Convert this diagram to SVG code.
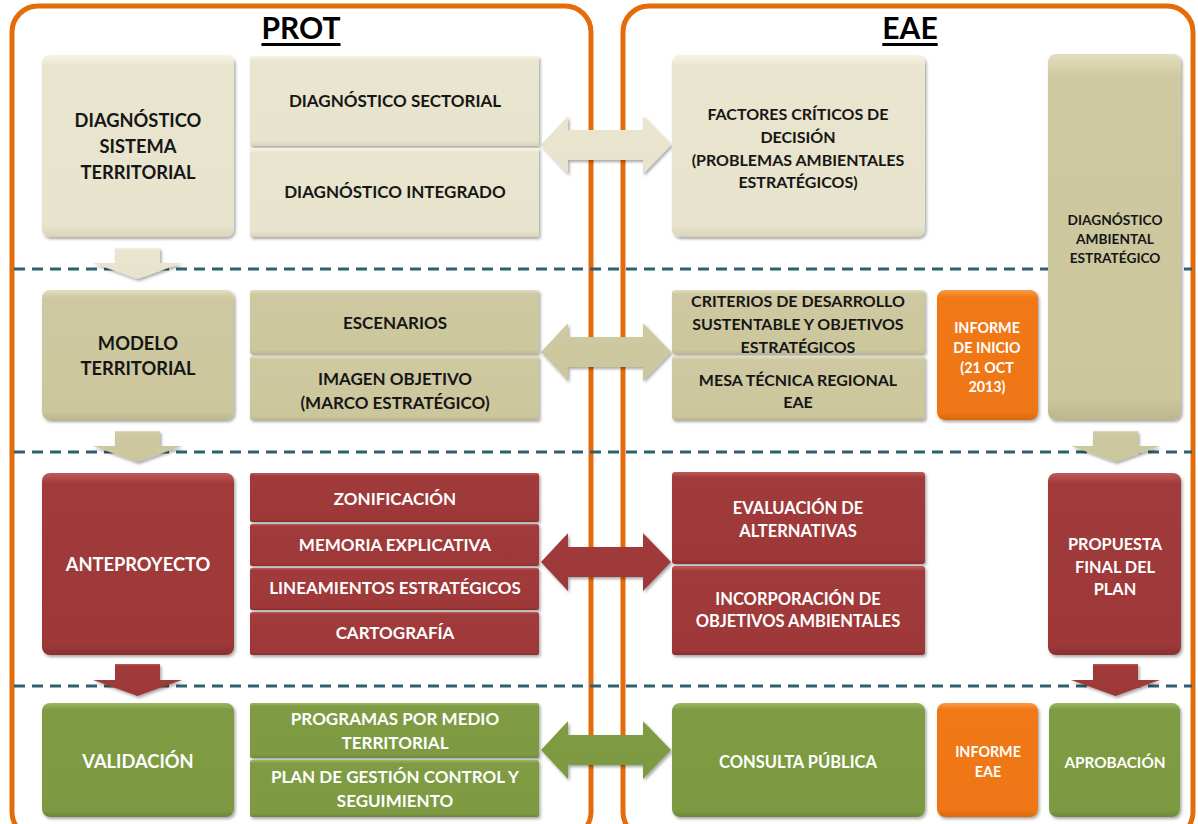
<svg xmlns="http://www.w3.org/2000/svg" width="1198" height="824" viewBox="0 0 1198 824">
<defs>
<style>
text{font-family:Lato,"Liberation Sans",sans-serif;font-weight:bold;text-anchor:middle;dominant-baseline:central}
.L{font-size:18.3px;fill:#161616}
.LW{font-size:18.3px;fill:#ffffff}
.t{font-size:17px;fill:#161616}
.w{font-size:17px;fill:#ffffff}
.s{font-size:16px;fill:#161616}
.sw{font-size:16.5px;fill:#ffffff}
.xs{font-size:13.7px;fill:#161616}
.xw{font-size:14.3px;fill:#ffffff}
.pw{font-size:16.3px;fill:#ffffff}
.title{font-size:30px;fill:#000;text-decoration:underline}
.frame{fill:none;stroke:#e46c0a;stroke-width:5}
.dash{stroke:#2e6070;stroke-width:3;stroke-dasharray:11 7;fill:none}
.beige{fill:url(#gBeige)}
.khaki{fill:url(#gKhaki)}
.red{fill:url(#gRed)}
.green{fill:url(#gGreen)}
.orange{fill:url(#gOrange)}
.box{filter:url(#sh)}
</style>
<filter id="sh" x="-10%" y="-10%" width="130%" height="130%">
<feDropShadow dx="1.5" dy="2" stdDeviation="1.5" flood-color="#000" flood-opacity="0.35"/>
</filter>
<linearGradient id="gBeige" x1="0" y1="0" x2="0" y2="1">
<stop offset="0" stop-color="#f6f3e6"/><stop offset="0.06" stop-color="#e9e5cf"/><stop offset="0.94" stop-color="#e7e3cc"/><stop offset="1" stop-color="#d9d4b9"/>
</linearGradient>
<linearGradient id="gKhaki" x1="0" y1="0" x2="0" y2="1">
<stop offset="0" stop-color="#e3dec0"/><stop offset="0.06" stop-color="#cfc9a1"/><stop offset="0.94" stop-color="#ccc69d"/><stop offset="1" stop-color="#bdb68c"/>
</linearGradient>
<linearGradient id="gRed" x1="0" y1="0" x2="0" y2="1">
<stop offset="0" stop-color="#c05a5a"/><stop offset="0.06" stop-color="#a13a3a"/><stop offset="0.94" stop-color="#9e3939"/><stop offset="1" stop-color="#8a2f2f"/>
</linearGradient>
<linearGradient id="gGreen" x1="0" y1="0" x2="0" y2="1">
<stop offset="0" stop-color="#9ab762"/><stop offset="0.06" stop-color="#7f9c44"/><stop offset="0.94" stop-color="#7d9a42"/><stop offset="1" stop-color="#6d883a"/>
</linearGradient>
<linearGradient id="gOrange" x1="0" y1="0" x2="0" y2="1">
<stop offset="0" stop-color="#f89a4a"/><stop offset="0.06" stop-color="#f07814"/><stop offset="0.94" stop-color="#ee7613"/><stop offset="1" stop-color="#d9690e"/>
</linearGradient>
</defs>
<rect x="0" y="0" width="1198" height="824" fill="#ffffff"/>

<g id="frames">
<rect class="frame" x="12" y="6" width="579" height="832" rx="26"/>
<rect class="frame" x="623" y="6" width="570" height="832" rx="26"/>
<text class="title" x="301" y="27">PROT</text>
<text class="title" x="910" y="27">EAE</text>
</g>

<g id="separators">
<line class="dash" x1="14" y1="269" x2="1192" y2="269"/>
<line class="dash" x1="14" y1="452" x2="1192" y2="452"/>
<line class="dash" x1="14" y1="686" x2="1192" y2="686"/>
</g>

<g id="connectors">
<polygon class="beige box" points="541,145 568,116 568,130 643,130 643,116 671,145 643,174 643,160 568,160 568,174"/>
<polygon class="khaki box" points="541,352 568,323 568,337 643,337 643,323 671,352 643,381 643,367 568,367 568,381"/>
<polygon class="red box" points="541,562 568,533 568,547 643,547 643,533 671,562 643,591 643,577 568,577 568,591"/>
<polygon class="green box" points="541,750 568,721 568,735 643,735 643,721 671,750 643,779 643,765 568,765 568,779"/>
<polygon class="beige box" points="115,248 160,248 160,263 182,263 137.5,279 93,263 115,263"/>
<polygon class="khaki box" points="115,431 160,431 160,446 182,446 137.5,462 93,446 115,446"/>
<polygon class="red box" points="115,664 160,664 160,680 182,680 137.5,696 93,680 115,680"/>
<polygon class="khaki box" points="1093,431 1138,431 1138,446 1160,446 1115.5,462 1071,446 1093,446"/>
<polygon class="red box" points="1093,664 1138,664 1138,680 1160,680 1115.5,696 1071,680 1093,680"/>
</g>

<g id="diag-sistema"><rect class="beige box" x="42" y="55" width="192" height="182" rx="8"/>
<text class="L" x="138" y="120">DIAGNÓSTICO</text><text class="L" x="138" y="146">SISTEMA</text><text class="L" x="138" y="172">TERRITORIAL</text></g>
<g id="diag-sectorial"><rect class="beige box" x="250" y="56" width="289" height="90" rx="2"/>
<text class="t" x="395" y="100">DIAGNÓSTICO SECTORIAL</text></g>
<g id="diag-integrado"><rect class="beige box" x="250" y="148" width="289" height="89" rx="2"/>
<text class="t" x="395" y="191">DIAGNÓSTICO INTEGRADO</text></g>
<g id="factores"><rect class="beige box" x="672" y="55" width="253" height="182" rx="8"/>
<text class="s" x="798" y="113">FACTORES CRÍTICOS DE</text><text class="s" x="798" y="136">DECISIÓN</text><text class="s" x="798" y="159">(PROBLEMAS AMBIENTALES</text><text class="s" x="798" y="181">ESTRATÉGICOS)</text></g>
<g id="diag-ambiental"><rect class="khaki box" x="1048" y="54" width="133" height="366" rx="8"/>
<text class="xs" x="1115" y="219">DIAGNÓSTICO</text><text class="xs" x="1115" y="238">AMBIENTAL</text><text class="xs" x="1115" y="257">ESTRATÉGICO</text></g>

<g id="modelo"><rect class="khaki box" x="42" y="290" width="192" height="130" rx="8"/>
<text class="L" x="138" y="343">MODELO</text><text class="L" x="138" y="368">TERRITORIAL</text></g>
<g id="escenarios"><rect class="khaki box" x="250" y="290" width="289" height="64" rx="2"/>
<text class="t" x="395" y="322">ESCENARIOS</text></g>
<g id="imagen"><rect class="khaki box" x="250" y="356" width="289" height="64" rx="2"/>
<text class="t" x="395" y="378">IMAGEN OBJETIVO</text><text class="t" x="395" y="402">(MARCO ESTRATÉGICO)</text></g>
<g id="criterios"><rect class="khaki box" x="672" y="290" width="253" height="64" rx="3"/>
<text class="s" x="798" y="300">CRITERIOS DE DESARROLLO</text><text class="s" x="798" y="323">SUSTENTABLE Y OBJETIVOS</text><text class="s" x="798" y="346">ESTRATÉGICOS</text></g>
<g id="mesa"><rect class="khaki box" x="672" y="356" width="253" height="64" rx="3"/>
<text class="s" x="798" y="379">MESA TÉCNICA REGIONAL</text><text class="s" x="798" y="401">EAE</text></g>
<g id="informe-inicio"><rect class="orange box" x="937" y="290" width="101" height="130" rx="8"/>
<text class="xw" x="987" y="327">INFORME</text><text class="xw" x="987" y="347">DE INICIO</text><text class="xw" x="987" y="367">(21 OCT</text><text class="xw" x="987" y="386">2013)</text></g>

<g id="anteproyecto"><rect class="red box" x="42" y="473" width="192" height="182" rx="8"/>
<text class="LW" x="138" y="564">ANTEPROYECTO</text></g>
<g id="zonificacion"><rect class="red box" x="250" y="473" width="289" height="49" rx="2"/>
<text class="w" x="395" y="498">ZONIFICACIÓN</text></g>
<g id="memoria"><rect class="red box" x="250" y="524" width="289" height="42" rx="2"/>
<text class="w" x="395" y="544">MEMORIA EXPLICATIVA</text></g>
<g id="lineamientos"><rect class="red box" x="250" y="568" width="289" height="42" rx="2"/>
<text class="w" x="395" y="587">LINEAMIENTOS ESTRATÉGICOS</text></g>
<g id="cartografia"><rect class="red box" x="250" y="612" width="289" height="43" rx="2"/>
<text class="w" x="395" y="632">CARTOGRAFÍA</text></g>
<g id="evaluacion"><rect class="red box" x="672" y="472" width="253" height="92" rx="3"/>
<text class="sw" x="798" y="508">EVALUACIÓN DE</text><text class="sw" x="798" y="531">ALTERNATIVAS</text></g>
<g id="incorporacion"><rect class="red box" x="672" y="566" width="253" height="89" rx="3"/>
<text class="sw" x="798" y="599">INCORPORACIÓN DE</text><text class="sw" x="798" y="621">OBJETIVOS AMBIENTALES</text></g>
<g id="propuesta"><rect class="red box" x="1048" y="473" width="133" height="182" rx="8"/>
<text class="pw" x="1115" y="543">PROPUESTA</text><text class="pw" x="1115" y="566">FINAL DEL</text><text class="pw" x="1115" y="588">PLAN</text></g>

<g id="validacion"><rect class="green box" x="42" y="703" width="192" height="114" rx="8"/>
<text class="LW" x="138" y="761">VALIDACIÓN</text></g>
<g id="programas"><rect class="green box" x="250" y="703" width="289" height="55" rx="2"/>
<text class="w" x="395" y="718">PROGRAMAS POR MEDIO</text><text class="w" x="395" y="742">TERRITORIAL</text></g>
<g id="plan-gestion"><rect class="green box" x="250" y="760" width="289" height="57" rx="2"/>
<text class="w" x="395" y="776">PLAN DE GESTIÓN CONTROL Y</text><text class="w" x="395" y="800">SEGUIMIENTO</text></g>
<g id="consulta"><rect class="green box" x="672" y="703" width="253" height="114" rx="8"/>
<text class="sw" x="798" y="762">CONSULTA PÚBLICA</text></g>
<g id="informe-eae"><rect class="orange box" x="937" y="703" width="101" height="114" rx="8"/>
<text class="xw" x="988" y="751">INFORME</text><text class="xw" x="988" y="771">EAE</text></g>
<g id="aprobacion"><rect class="green box" x="1049" y="703" width="131" height="114" rx="8"/>
<text class="xw" x="1115" y="762" style="font-size:15.3px">APROBACIÓN</text></g>
</svg>
